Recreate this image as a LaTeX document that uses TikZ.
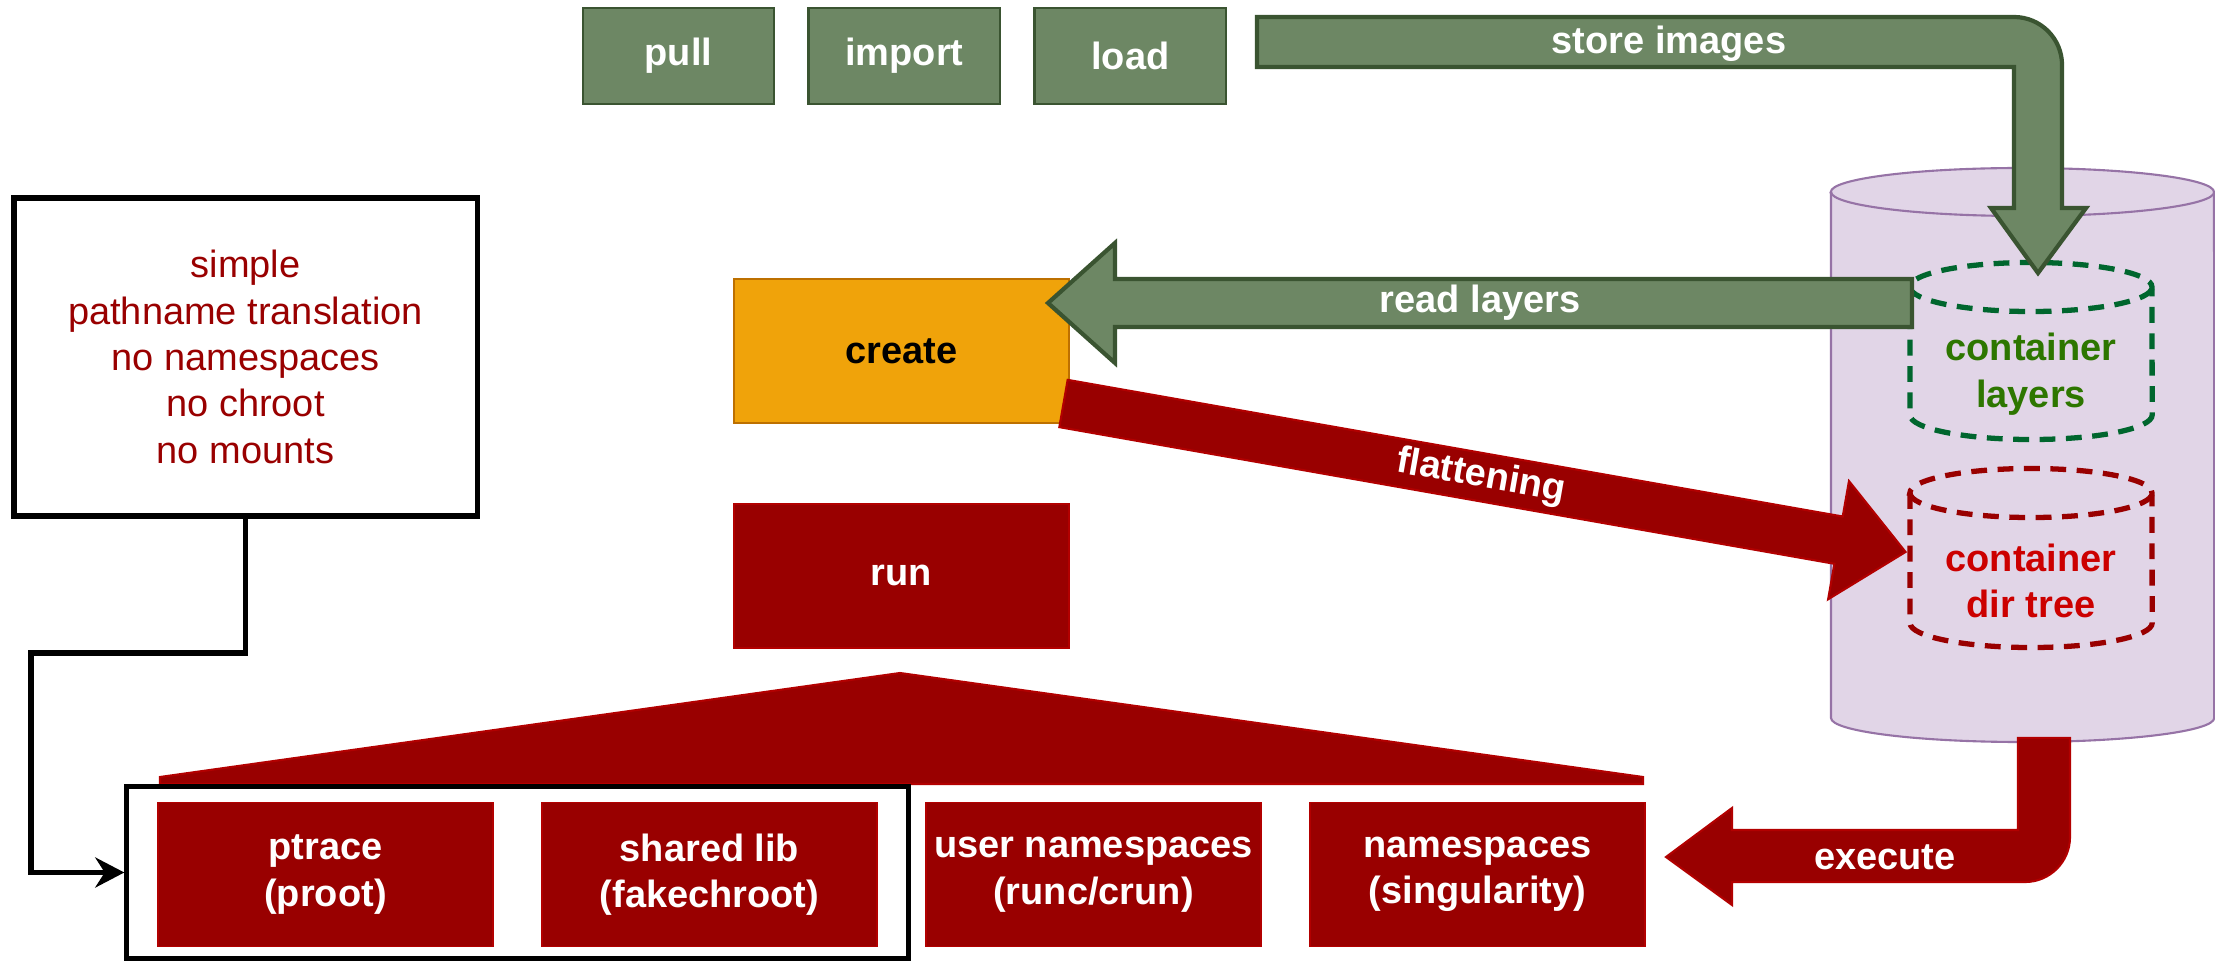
\documentclass[tikz,border=0pt]{standalone}
\usepackage{fontspec}
\setmainfont{Liberation Sans}
\usepackage{tikz}
\usetikzlibrary{positioning, calc, arrows.meta}
\definecolor{stepgreen}{HTML}{6D8764}
\definecolor{stepgreenline}{HTML}{3A5431}
\definecolor{createorange}{HTML}{F0A30A}
\definecolor{createline}{HTML}{BD7000}
\definecolor{runred}{HTML}{990000}
\definecolor{runredline}{HTML}{B20000}
\definecolor{storagelilac}{HTML}{E1D5E7}
\definecolor{storageline}{HTML}{9673A6}
\definecolor{layergreen}{HTML}{00662E}
\definecolor{layertext}{HTML}{2D7600}
\definecolor{treetext}{HTML}{CC0000}
\newcommand{\diagfont}{\fontsize{10.8}{13.2}\selectfont}

\tikzset{
  greenstep/.style={draw=stepgreenline, fill=stepgreen, line width=0.8pt, minimum width=1.91cm, minimum height=0.96cm, text=white, font=\diagfont\bfseries},
  redstep/.style={draw=runredline, fill=runred, line width=0.5pt, minimum width=3.35cm, minimum height=1.44cm, inner xsep=1pt, text=white, align=center, font=\diagfont\bfseries},
  fatgreen/.style={draw=stepgreenline, fill=stepgreen, line width=1.2pt},
  fatred/.style={draw=runredline, fill=runred, line width=0.6pt},
  arrowlabel/.style={text=white, font=\diagfont\bfseries},
  layerdash/.style={dash pattern=on 4.5pt off 3pt, line width=1.5pt}
}

\begin{document}
\begin{tikzpicture}[x=0.01cm, y=-0.01cm]
  \useasboundingbox (0,0) rectangle (2215,961);

  % storage
  \filldraw[fill=storagelilac, draw=storageline, line width=0.6pt] (1831,192) -- (1831,718) arc[start angle=180, end angle=360, x radius=1.915cm, y radius=0.24cm] -- (2214,192) arc[start angle=0, end angle=180, x radius=1.915cm, y radius=0.24cm] -- cycle;
  \draw[storageline, line width=0.6pt] (1831,192) arc[start angle=180, end angle=360, x radius=1.915cm, y radius=0.24cm];

  \draw[layergreen, layerdash] (1910,287) -- (1910,415) arc[start angle=180, end angle=360, x radius=1.21cm, y radius=0.245cm] -- (2152,287) arc[start angle=0, end angle=180, x radius=1.21cm, y radius=0.245cm] -- cycle;
  \draw[layergreen, layerdash] (1910,287) arc[start angle=180, end angle=360, x radius=1.21cm, y radius=0.245cm];
  \node[text=layertext, align=center, font=\diagfont\bfseries] (layers) at (2031,374) {container\\layers};

  \draw[runred, layerdash] (1910,493) -- (1910,623) arc[start angle=180, end angle=360, x radius=1.21cm, y radius=0.245cm] -- (2152,493) arc[start angle=0, end angle=180, x radius=1.21cm, y radius=0.245cm] -- cycle;
  \draw[runred, layerdash] (1910,493) arc[start angle=180, end angle=360, x radius=1.21cm, y radius=0.245cm];
  \node[text=treetext, align=center, font=\diagfont\bfseries] (dirtree) at (2031,581) {container\\dir tree};

  % image commands
  \node[greenstep] (pull) at (678.5,56) {pull};
  \node[greenstep, right=0.32cm of pull] (import) {import};
  \node[greenstep, right=0.32cm of import] (load) {load};

  \node[draw=createline, fill=createorange, minimum width=3.35cm, minimum height=1.44cm, font=\diagfont\bfseries] (create) at (901.5,351) {create};
  \node[redstep, below=0.79cm of create] (run) {run};

  \filldraw[fatred] (160,777) -- (900,673) -- (1643,777) -- (1643,784) -- (160,784) -- cycle;

  % run modes
  \node[redstep] (ptrace) at (325.5,874.5) {ptrace\\(proot)};
  \node[redstep, right=0.47cm of ptrace] (sharedlib) {shared lib\\(fakechroot)};
  \node[redstep, right=0.47cm of sharedlib] (userns) {user namespaces\\(runc/crun)};
  \node[redstep, right=0.47cm of userns] (ns) {namespaces\\(singularity)};
  \node[draw=black, line width=1.4pt, minimum width=7.81cm, minimum height=1.71cm, inner sep=0pt] (hostbox) at (517.5,872.5) {};

  \node[draw=black, line width=1.5pt, minimum width=4.63cm, minimum height=3.18cm, align=center, text=runred, font=\diagfont] (notes) at (245.5,357) {simple\\pathname translation\\no namespaces\\no chroot\\no mounts};
  \coordinate (bend) at (31,653);
  \draw[line width=1.5pt, -{Stealth[length=0.29cm, width=0.3cm]}] (notes.south) |- (bend) |- (hostbox.west);

  % big arrows
  \filldraw[fatgreen] (1257,17) -- (2014,17) arc[start angle=90, end angle=0, radius=0.48cm] -- (2062,208) -- (2086,208) -- (2038,273) -- (1991,208) -- (2014,208) -- (2014,67) -- (1257,67) -- cycle;
  \node[arrowlabel] (storelbl) at (1669,44) {store images};

  \filldraw[fatgreen] (1912,279) -- (1115,279) -- (1115,243) -- (1048,303) -- (1115,363) -- (1115,327) -- (1912,327) -- cycle;
  \node[arrowlabel] (readlbl) at (1480,303) {read layers};

  \begin{scope}[shift={(1063.5,403.5)}, rotate=-10]
    \filldraw[fatred] (0,-24) -- (787,-24) -- (787,-60) -- (855,0) -- (787,60) -- (787,24) -- (0,24) -- cycle;
    \node[arrowlabel, rotate=-10] (flatlbl) at (424,0) {flattening};
  \end{scope}

  \filldraw[fatred] (2018,738) -- (2070,738) -- (2070,837) arc[start angle=0, end angle=-90, radius=0.45cm] -- (1732,882) -- (1732,905) -- (1666,857) -- (1732,808) -- (1732,830) -- (2018,830) -- cycle;
  \node[arrowlabel] (execlbl) at (1885,857) {execute};
\end{tikzpicture}
\end{document}
